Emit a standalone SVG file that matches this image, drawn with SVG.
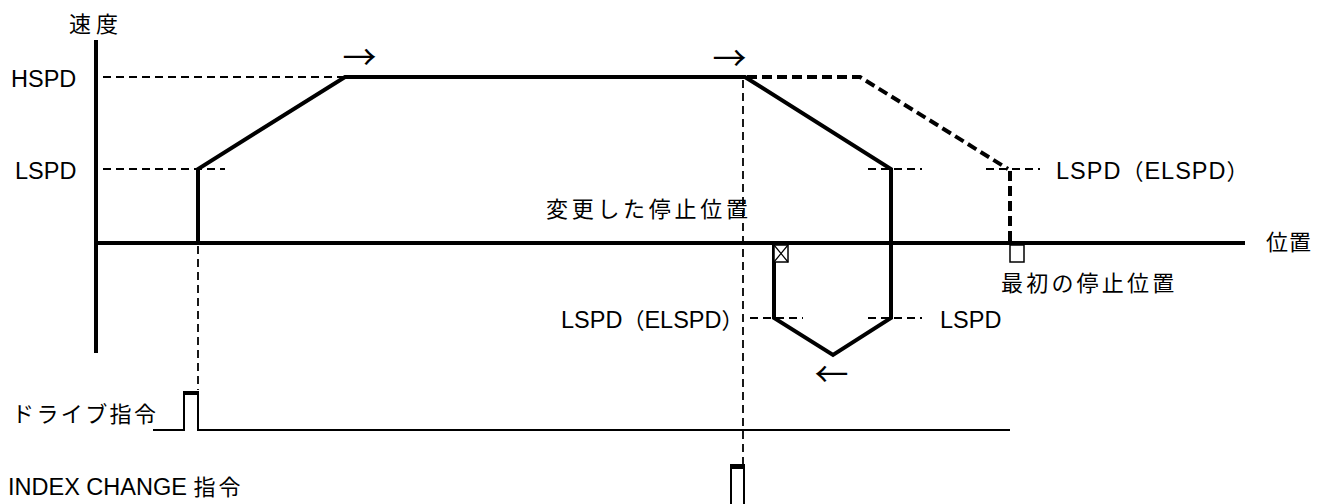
<svg xmlns="http://www.w3.org/2000/svg" width="1317" height="504" viewBox="0 0 1317 504">
<style>
.lat{font-family:"Liberation Sans",Arial,"Noto Sans CJK JP",sans-serif;font-size:23.5px;fill:#000}
.jp{font-family:"Noto Sans CJK JP","Liberation Sans",sans-serif;font-size:22px;fill:#000}
.arr{font-family:"Noto Sans CJK JP",sans-serif;font-size:34px;fill:#000}
.thick{fill:none;stroke:#000;stroke-width:4}
.thickdash{fill:none;stroke:#000;stroke-width:4;stroke-dasharray:10 5}
.guide{fill:none;stroke:#000;stroke-width:1.8;stroke-dasharray:8 5}
.sig{fill:none;stroke:#000;stroke-width:2}
.box{fill:#fff;stroke:#000;stroke-width:1.5}
</style>
<rect width="1317" height="504" fill="#fff"/>
<g id="guides">
<line class="guide" x1="103" y1="77" x2="343" y2="77"/>
<line class="guide" x1="103" y1="169" x2="225" y2="169"/>
<line class="guide" x1="868" y1="169" x2="922" y2="169"/>
<line class="guide" x1="986" y1="169" x2="1040" y2="169"/>
<line class="guide" x1="750" y1="318" x2="803" y2="318"/>
<line class="guide" x1="868" y1="318" x2="922" y2="318"/>
<line class="guide" x1="743" y1="80" x2="743" y2="464"/>
<line class="guide" x1="198" y1="246" x2="198" y2="390"/>
</g>
<g id="axes">
<line class="thick" x1="96" y1="40" x2="96" y2="353"/>
<line class="thick" x1="94" y1="243" x2="1245" y2="243"/>
</g>
<g id="profile">
<path class="thick" d="M198,243 V169 L345,77 H745 L891,169 V318 L833,355 L774,318 V243" stroke-linejoin="miter"/>
<path class="thickdash" d="M747,77 H860 L1008,169"/>
<line class="thickdash" x1="1010" y1="171" x2="1010" y2="243"/>
</g>
<g id="markers">
<rect class="box" x="774" y="245" width="14" height="17"/>
<path d="M774,245 L788,262 M788,245 L774,262" stroke="#000" stroke-width="1.2"/>
<rect class="box" x="1010" y="245" width="14" height="17"/>
</g>
<g id="signals">
<path class="sig" d="M153,430 H184 V392 H198 V430 H1010"/>
<rect x="184" y="391" width="14" height="4" fill="#000"/>
<path class="sig" d="M731,505 V466 H744 V505"/>
<rect x="730" y="464" width="15" height="5" fill="#000"/>
</g>
<g id="labels">
<text class="jp" x="69" y="31.5" letter-spacing="5">速度</text>
<text class="lat" x="11" y="87">HSPD</text>
<text class="lat" x="15" y="179">LSPD</text>
<text class="jp" x="546" y="216.5" letter-spacing="3.7">変更した停止位置</text>
<text class="lat" x="1056" y="179" letter-spacing="1">LSPD<tspan class="jp" font-size="23.5px">（</tspan>ELSPD<tspan class="jp" font-size="23.5px">）</tspan></text>
<text class="jp" x="1266" y="249.5" letter-spacing="1">位置</text>
<text class="jp" x="1001" y="290.5" letter-spacing="3.2">最初の停止位置</text>
<text class="lat" x="561" y="328">LSPD<tspan class="jp" font-size="23.5px">（</tspan>ELSPD<tspan class="jp" font-size="23.5px">）</tspan></text>
<text class="lat" x="940" y="328">LSPD</text>
<text class="jp" x="12" y="421.5" letter-spacing="2.4">ドライブ指令</text>
<text class="lat" x="8" y="495">INDEX CHANGE <tspan class="jp" font-size="22px" letter-spacing="3">指令</tspan></text>
<text class="arr" x="342.6" y="70">→</text>
<text class="arr" x="712.6" y="71">→</text>
<text class="arr" x="814.6" y="387">←</text>
</g>
</svg>
